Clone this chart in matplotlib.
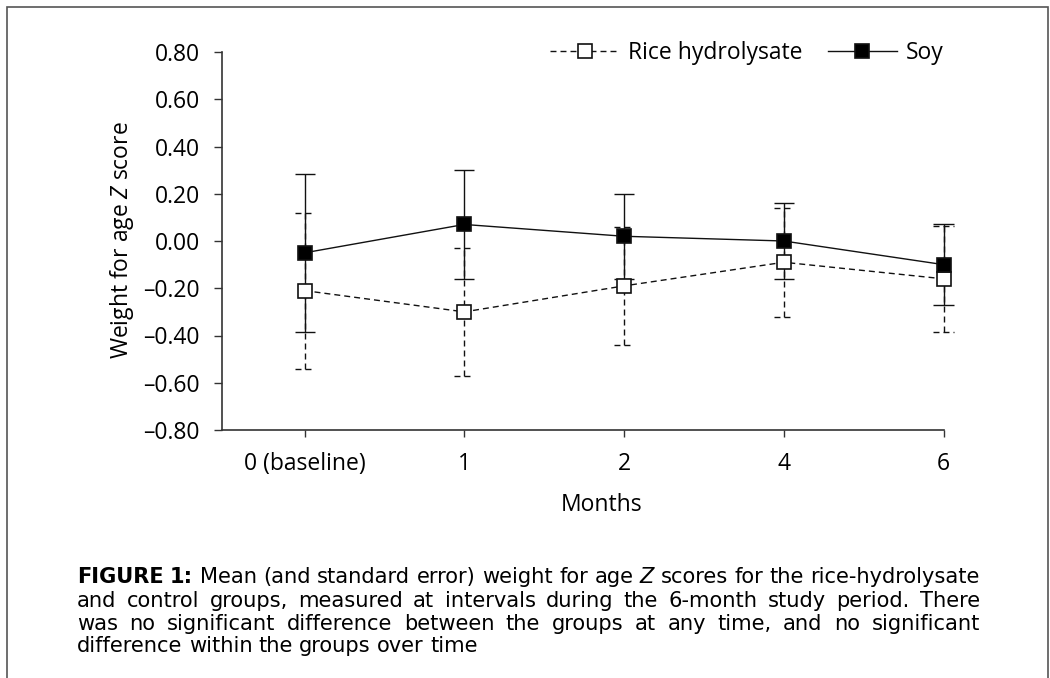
import matplotlib
matplotlib.use("Agg")
import matplotlib.pyplot as plt
from matplotlib.lines import Line2D
from matplotlib.patches import Rectangle

plt.rcParams['font.family'] = ['Open Sans', 'DejaVu Sans']
plt.rcParams['mathtext.fontset'] = 'custom'
plt.rcParams['mathtext.rm'] = 'Open Sans'
plt.rcParams['mathtext.it'] = 'Open Sans:italic'

# data (mean and standard error)
months = ['0 (baseline)', '1', '2', '4', '6']
rice_mean = [-0.21, -0.30, -0.19, -0.09, -0.16]
rice_se = [0.33, 0.27, 0.25, 0.23, 0.225]
soy_mean = [-0.05, 0.07, 0.02, 0.00, -0.10]
soy_se = [0.335, 0.23, 0.18, 0.16, 0.17]
yticks = [-0.8, -0.6, -0.4, -0.2, 0.0, 0.2, 0.4, 0.6, 0.8]

caption_lines = [
    [("FIGURE", "bold"), ("1:", "bold"), "Mean", "(and", "standard", "error)", "weight", "for", "age",
     ("Z", "italic"), "scores", "for", "the", "rice-hydrolysate"],
    "and control groups, measured at intervals during the 6-month study period. There".split(),
    "was no significant difference between the groups at any time, and no significant".split(),
    "difference within the groups over time".split(),
]

W, H = 1050, 678
fig = plt.figure(figsize=(W / 100, H / 100), dpi=100)
ax = fig.add_axes([222 / W, 1 - 430 / H, 721.5 / W, 378 / H])

x = list(range(len(months)))
dash = (0, (4.3, 2.9))
cap = 0.063
ink = '#111111'

# error bars first, so the markers sit on top of them
ax.vlines(x, [m - s for m, s in zip(rice_mean, rice_se)], [m + s for m, s in zip(rice_mean, rice_se)],
          colors=ink, linewidth=1.0, linestyles=dash, zorder=2, clip_on=False)
for xi, m, s in zip(x, rice_mean, rice_se):
    ax.hlines([m - s, m + s], xi - cap, xi + cap, colors=ink, linewidth=1.0, linestyles=dash,
              zorder=2, clip_on=False)
ax.vlines(x, [m - s for m, s in zip(soy_mean, soy_se)], [m + s for m, s in zip(soy_mean, soy_se)],
          colors=ink, linewidth=1.0, zorder=2, clip_on=False)
for xi, m, s in zip(x, soy_mean, soy_se):
    ax.hlines([m - s, m + s], xi - cap, xi + cap, colors=ink, linewidth=1.0, zorder=2, clip_on=False)

ax.plot(x, rice_mean, color=ink, linewidth=1.0, linestyle=dash, marker='s', markersize=10,
        markerfacecolor='white', markeredgecolor=ink, markeredgewidth=1.2, zorder=3, clip_on=False)
ax.plot(x, soy_mean, color=ink, linewidth=1.0, marker='s', markersize=10,
        markerfacecolor='black', markeredgecolor=ink, markeredgewidth=1.2, zorder=4, clip_on=False)

ax.set_xlim(-0.517, 4.0)
ax.set_ylim(-0.8, 0.8)
ax.set_xticks(x)
ax.set_xticklabels(months)
ax.set_yticks(yticks)
ax.set_yticklabels([f"{v:.2f}".replace('-', '\u2013') if abs(v) > 1e-9 else "0.00" for v in yticks])

for side in ['top', 'right']:
    ax.spines[side].set_visible(False)
for side in ['left', 'bottom']:
    ax.spines[side].set_linewidth(1.2)
    ax.spines[side].set_color('#333333')
ax.tick_params(axis='y', direction='out', length=5.8, width=1.0, pad=10, labelsize=16.5, colors='#333333', labelcolor='black')
ax.tick_params(axis='x', direction='out', length=5, width=1.0, pad=10.5, labelsize=16.5, colors='#333333', labelcolor='black')

ax.set_xlabel('Months', fontsize=16.5)
ax.xaxis.label.set_va('center')
ax.xaxis.set_label_coords(0.526, -0.199)
ax.set_ylabel('Weight for age $Z$ score', fontsize=16.5)
ax.yaxis.label.set_va('center')
ax.yaxis.set_label_coords(-0.1386, 0.503)

handles = [
    Line2D([], [], color=ink, linewidth=1.0, linestyle=dash, marker='s', markersize=10,
           markerfacecolor='white', markeredgecolor=ink, markeredgewidth=1.2),
    Line2D([], [], color=ink, linewidth=1.0, marker='s', markersize=10,
           markerfacecolor='black', markeredgecolor=ink, markeredgewidth=1.2),
]
ax.legend(handles, ['Rice hydrolysate', 'Soy'], loc='center right', bbox_to_anchor=(1.0, 0.997),
          ncol=2, frameon=False, fontsize=16.5, handlelength=3.0, handletextpad=0.4,
          columnspacing=1.1, borderaxespad=0, borderpad=0)

# outer box, open at the bottom
fig.add_artist(Rectangle((7 / W, -0.05), (1048 - 7) / W, (H - 7) / H + 0.05, transform=fig.transFigure,
                         fill=False, edgecolor='#555555', linewidth=1.2))

# justified caption; a wide face keeps the letters as low as in the print
left, right = 77, 980
baselines = [583, 607, 630, 652]
cap_family = ['DejaVu Sans']
fig.canvas.draw()
renderer = fig.canvas.get_renderer()


def make_words(words, yb, size):
    texts = []
    for w in words:
        style, weight = 'normal', 'normal'
        if isinstance(w, tuple):
            w, kind = w
            if kind == 'bold':
                weight = 'bold'
            else:
                style = 'italic'
        texts.append(fig.text(0, 1 - yb / H, w, fontsize=size, fontweight=weight, fontstyle=style,
                              family=cap_family, va='baseline', ha='left'))
    return texts


# size the caption so the first line fills the width with ordinary word spaces
probe = make_words(caption_lines[0], baselines[0], 12.0)
probe_w = sum(t.get_window_extent(renderer).width for t in probe)
for t in probe:
    t.remove()
space_em = 0.30
size_px = 12.0 * 100 / 72
scale = (right - left) / (probe_w + (len(caption_lines[0]) - 1) * space_em * size_px)
cap_size = 12.0 * scale

for i, (words, yb) in enumerate(zip(caption_lines, baselines)):
    texts = make_words(words, yb, cap_size)
    widths = [t.get_window_extent(renderer).width for t in texts]
    if i == len(caption_lines) - 1:
        gap = space_em * cap_size * 100 / 72
    else:
        gap = (right - left - sum(widths)) / (len(texts) - 1)
    xp = left
    for t, w in zip(texts, widths):
        t.set_x(xp / W)
        xp += w + gap

fig.savefig('out.png', dpi=100)
